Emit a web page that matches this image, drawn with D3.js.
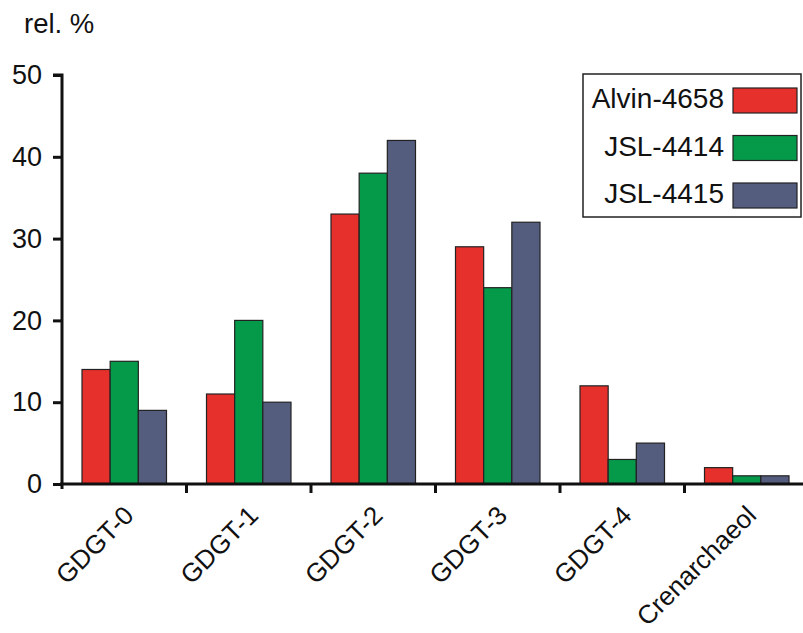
<!DOCTYPE html>
<html><head><meta charset="utf-8">
<script src="https://cdn.jsdelivr.net/npm/d3@7"></script>
<style>body{margin:0;background:#fff}svg{display:block}text{font-family:"Liberation Sans",Arial,sans-serif;fill:#111}</style>
</head><body><svg id="c" width="803" height="633"></svg>
<script>
const categories = ["GDGT-0","GDGT-1","GDGT-2","GDGT-3","GDGT-4","Crenarchaeol"];
const seriesNames = ["Alvin-4658","JSL-4414","JSL-4415"];
const alvin = [14,11,33,29,12,2];
const jsl4414 = [15,20,38,24,3,1];
const jsl4415 = [9,10,42,32,5,1];
const yTicks = [0,10,20,30,40,50];
const colors = ["#e5302c","#05994a","#555d7f"];
const series = [alvin, jsl4414, jsl4415];

const svg = d3.select("#c");
const x = d3.scaleBand().domain(categories).range([62, 809]).paddingInner(0).paddingOuter(0);
const inner = d3.scaleBand().domain(seriesNames).range([20, x.bandwidth()-20]);
const y = d3.scaleLinear().domain([0,50]).range([484,75]);

// bars
categories.forEach((c,i)=>{
  series.forEach((s,j)=>{
    svg.append("rect")
      .attr("x", x(c)+inner(seriesNames[j]))
      .attr("y", y(s[i]))
      .attr("width", inner.bandwidth())
      .attr("height", y(0)-y(s[i]))
      .attr("fill", colors[j]).attr("stroke","#222").attr("stroke-width",1.2);
  });
});

// y axis
const ya = svg.append("g").attr("transform","translate(62,0)")
  .call(d3.axisLeft(y).tickValues(yTicks).tickSize(9).tickPadding(11));
ya.select(".domain").attr("stroke","#111").attr("stroke-width",3).attr("d","M-9,75H0V489");
ya.selectAll(".tick line").attr("stroke","#111").attr("stroke-width",3);
ya.selectAll(".tick text").attr("font-size",27).attr("font-family","Liberation Sans, Arial, sans-serif").attr("fill","#111");

// x axis
const xa = svg.append("g").attr("transform","translate(0,484)");
xa.append("line").attr("x1",60).attr("x2",803).attr("y1",0).attr("y2",0).attr("stroke","#111").attr("stroke-width",3);
categories.forEach((c,i)=>{
  const bx = x(c)+x.bandwidth();
  if(i<categories.length-1) xa.append("line").attr("x1",bx).attr("x2",bx).attr("y1",0).attr("y2",9).attr("stroke","#111").attr("stroke-width",3);
  const cx = x(c)+x.bandwidth()/2+11;
  xa.append("text").attr("transform",`translate(${cx},33) rotate(-45)`)
    .attr("text-anchor","end").attr("font-size",26).text(c);
});

// y title
svg.append("text").attr("x",24).attr("y",33).attr("font-size",27.5).text("rel. %");

// legend
const lg = svg.append("g");
lg.append("rect").attr("x",583).attr("y",74).attr("width",218).attr("height",143).attr("fill","#fff").attr("stroke","#222").attr("stroke-width",1.5);
seriesNames.forEach((n,j)=>{
  const yy = 88 + j*47.5;
  lg.append("rect").attr("x",733).attr("y",yy).attr("width",64).attr("height",25).attr("fill",colors[j]).attr("stroke","#222").attr("stroke-width",1.2);
  lg.append("text").attr("x",724).attr("y",yy+20).attr("text-anchor","end").attr("font-size",28).text(n);
});
</script></body></html>
